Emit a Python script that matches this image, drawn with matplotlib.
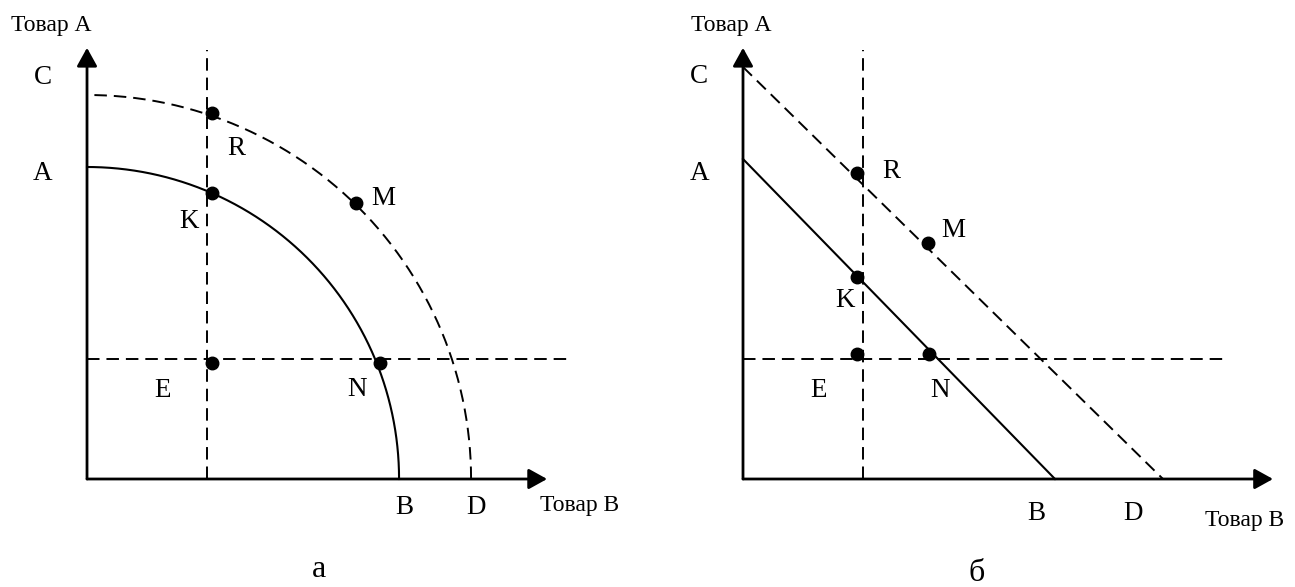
import matplotlib
matplotlib.use("Agg")
import matplotlib.pyplot as plt
import numpy as np

plt.rcParams.update({"font.family": "Liberation Serif", "lines.scale_dashes": False})

# ── data (units on both panels: 1 unit = 40 px) ─────────────────
# panel а: two concentric PPF arcs
arc_radii = [7.8, 9.6]            # solid (A–B), dashed (C–D)
left_vline_x = 3.0
left_hline_y = 3.0
left_pts_x = [3.125, 3.125, 6.73, 3.125, 7.33]     # R, K, M, E, N
left_pts_y = [9.15, 7.15, 6.9, 2.9, 2.9]

# panel б: two parallel linear PPFs
line_A, line_B = 8.0, 7.8         # solid intercepts
line_C, line_D = 10.3, 10.5       # dashed intercepts
right_vline_x = 3.0
right_hline_y = 3.0
right_pts_x = [2.85, 4.63, 2.85, 2.85, 4.65]       # R, M, K, E, N
right_pts_y = [7.65, 5.9, 5.05, 3.125, 3.125]

DASH = (0, (9, 5))
FS = 19.5
FS_AX = 17
FS_SUB = 23


def draw_axes(ax, xtip, ytip):
    kw = dict(arrowstyle="-|>,head_length=0.56,head_width=0.31", lw=2.0,
              color="black", shrinkA=0, shrinkB=0, mutation_scale=20)
    ax.annotate("", xy=(0, ytip), xytext=(0, 0), arrowprops=kw)
    ax.annotate("", xy=(xtip, 0), xytext=(0, 0), arrowprops=kw)


fig = plt.figure(figsize=(12.95, 5.87), dpi=100)
fig.patch.set_facecolor("white")

# ── Panel а ─────────────────────────────────────────────────────
ax1 = fig.add_axes([0, 0, 0.5, 1])
ax1.set_xlim(-2.175, 14.01)
ax1.set_ylim(-2.7, 11.975)
ax1.axis("off")

t = np.linspace(0, np.pi / 2, 300)
ax1.plot(arc_radii[0] * np.cos(t), arc_radii[0] * np.sin(t), color="black", lw=1.5)
ax1.plot(arc_radii[1] * np.cos(t), arc_radii[1] * np.sin(t), color="black", lw=1.4, ls=DASH)
ax1.plot([left_vline_x, left_vline_x], [0, 10.73], color="black", lw=1.4, ls=DASH)
ax1.plot([0, 12.08], [left_hline_y, left_hline_y], color="black", lw=1.4, ls=DASH)
draw_axes(ax1, 11.5, 10.78)
ax1.plot(left_pts_x, left_pts_y, "o", color="black", ms=9, ls="none")

lab1 = [("C", -1.1, 9.875), ("A", -1.1, 7.475), ("R", 3.725, 8.1), ("K", 2.55, 6.275),
        ("M", 7.4, 6.85), ("E", 1.9, 2.05), ("N", 6.75, 2.075), ("B", 7.925, -0.875),
        ("D", 9.725, -0.875)]
for s, x, y in lab1:
    ax1.text(x, y, s, ha="center", va="baseline", fontsize=FS)
ax1.text(-0.9, 11.2, "Товар А", ha="center", va="baseline", fontsize=FS_AX)
ax1.text(12.3, -0.8, "Товар В", ha="center", va="baseline", fontsize=FS_AX)
ax1.text(5.8, -2.45, "а", ha="center", va="baseline", fontsize=FS_SUB)

# ── Panel б ─────────────────────────────────────────────────────
ax2 = fig.add_axes([0.5, 0, 0.5, 1])
ax2.set_xlim(-2.3875, 13.8)
ax2.set_ylim(-2.7, 11.975)
ax2.axis("off")

ax2.plot([0, line_B], [line_A, 0], color="black", lw=1.5)
ax2.plot([0, line_D], [line_C, 0], color="black", lw=1.4, ls=DASH)
ax2.plot([right_vline_x, right_vline_x], [0, 10.73], color="black", lw=1.4, ls=DASH)
ax2.plot([0, 12.0], [right_hline_y, right_hline_y], color="black", lw=1.4, ls=DASH)
draw_axes(ax2, 13.25, 10.78)
ax2.plot(right_pts_x, right_pts_y, "o", color="black", ms=9, ls="none")

lab2 = [("C", -1.1, 9.9), ("A", -1.075, 7.475), ("R", 3.7, 7.525), ("M", 5.25, 6.05),
        ("K", 2.55, 4.3), ("E", 1.9, 2.05), ("N", 4.925, 2.05), ("B", 7.325, -1.025),
        ("D", 9.75, -1.025)]
for s, x, y in lab2:
    ax2.text(x, y, s, ha="center", va="baseline", fontsize=FS)
ax2.text(-0.3, 11.2, "Товар А", ha="center", va="baseline", fontsize=FS_AX)
ax2.text(12.55, -1.175, "Товар В", ha="center", va="baseline", fontsize=FS_AX)
ax2.text(5.85, -2.55, "б", ha="center", va="baseline", fontsize=FS_SUB)

fig.savefig("out.png", dpi=100)
